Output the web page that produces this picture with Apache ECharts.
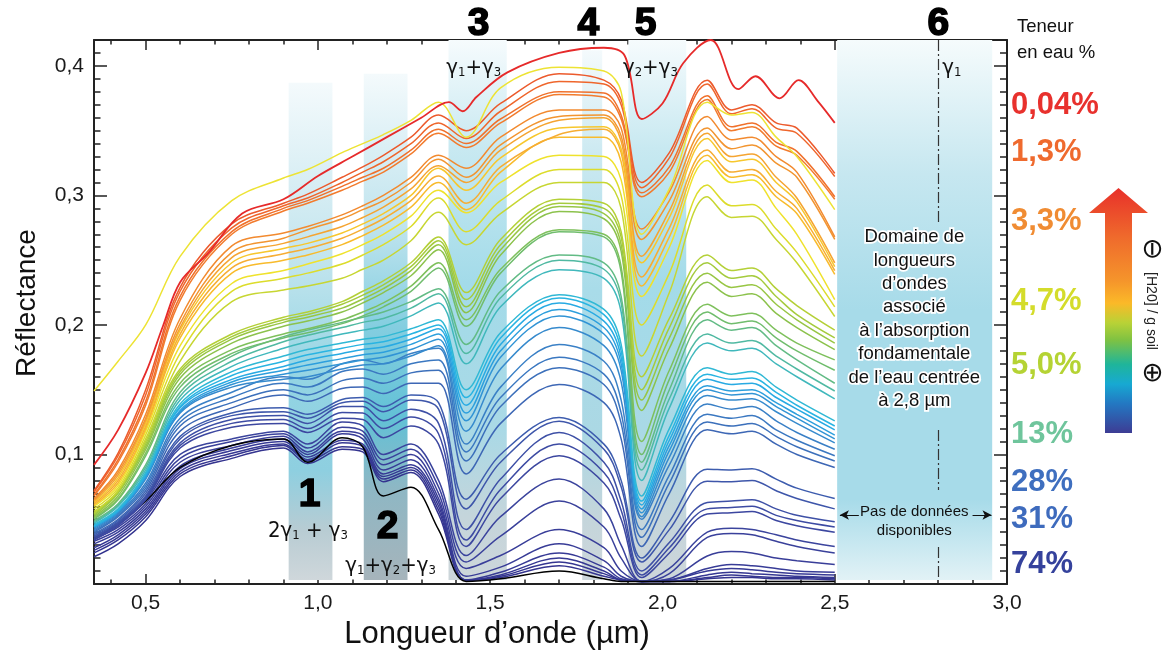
<!DOCTYPE html>
<html><head><meta charset="utf-8">
<script src="https://cdn.jsdelivr.net/npm/echarts@6/dist/echarts.min.js"></script>
<style>html,body{margin:0;padding:0;background:#fff;}#c{width:1171px;height:655px;}</style>
</head><body><div id="c"></div>
<script>
// ---------- data ----------
const wavelengths = [0.35, 0.42, 0.50, 0.60, 0.75, 0.90, 0.97, 1.07, 1.13, 1.19, 1.27, 1.35, 1.43, 1.53, 1.70, 1.83, 1.88, 1.94, 2.02, 2.13, 2.20, 2.26, 2.33, 2.39, 2.50];
const redWavelengths = [0.35, 0.42, 0.50, 0.55, 0.60, 0.68, 0.78, 0.90, 1.00, 1.10, 1.20, 1.30, 1.38, 1.42, 1.46, 1.55, 1.70, 1.83, 1.89, 1.94, 2.00, 2.06, 2.14, 2.22, 2.27, 2.34, 2.395, 2.45, 2.50];
const xTickMajor = [0.5, 1.0, 1.5, 2.0, 2.5, 3.0];
const xTickMinor = [0.4, 0.6, 0.7, 0.8, 0.9, 1.1, 1.2, 1.3, 1.4, 1.6, 1.7, 1.8, 1.9, 2.1, 2.2, 2.3, 2.4, 2.6, 2.7, 2.8, 2.9];
const yTickMajor = [0.1, 0.2, 0.3, 0.4];
const yTickMinor = [0.01,0.02,0.03,0.04,0.05,0.06,0.07,0.08,0.09,0.11,0.12,0.13,0.14,0.15,0.16,0.17,0.18,0.19,0.21,0.22,0.23,0.24,0.25,0.26,0.27,0.28,0.29,0.31,0.32,0.33,0.34,0.35,0.36,0.37,0.38,0.39,0.41];
const waterLabels = ['0,04%', '1,3%', '3,3%', '4,7%', '5,0%', '13%', '28%', '31%', '74%'];

const red004 = [0.092, 0.119, 0.163, 0.199, 0.233, 0.255, 0.286, 0.297, 0.315, 0.330, 0.345, 0.360, 0.372, 0.365, 0.376, 0.395, 0.410, 0.414, 0.408, 0.359, 0.371, 0.402, 0.420, 0.382, 0.392, 0.375, 0.389, 0.373, 0.356];
const yTop = [0.149, 0.172, 0.200, 0.253, 0.296, 0.3135, 0.320, 0.333, 0.340, 0.347, 0.358, 0.372, 0.345, 0.383, 0.399, 0.396, 0.380, 0.270, 0.305, 0.372, 0.362, 0.364, 0.345, 0.330, 0.289];
const o1a = [0.072, 0.101, 0.150, 0.229, 0.278, 0.294, 0.301, 0.314, 0.322, 0.331, 0.345, 0.362, 0.350, 0.371, 0.394, 0.389, 0.374, 0.310, 0.333, 0.389, 0.366, 0.370, 0.356, 0.352, 0.317];
const o1b = [0.071, 0.099, 0.146, 0.226, 0.275, 0.292, 0.298, 0.310, 0.318, 0.326, 0.340, 0.356, 0.344, 0.365, 0.388, 0.386, 0.370, 0.306, 0.329, 0.386, 0.363, 0.367, 0.352, 0.348, 0.3146];
const o1c = [0.069, 0.096, 0.141, 0.222, 0.272, 0.290, 0.296, 0.307, 0.314, 0.321, 0.335, 0.351, 0.340, 0.359, 0.380, 0.379, 0.362, 0.302, 0.322, 0.377, 0.353, 0.356, 0.341, 0.334, 0.299];
const o1d = [0.068, 0.094, 0.138, 0.219, 0.270, 0.288, 0.294, 0.304, 0.311, 0.318, 0.332, 0.348, 0.337, 0.356, 0.378, 0.376, 0.359, 0.299, 0.318, 0.374, 0.350, 0.353, 0.338, 0.331, 0.297];
const o2a = [0.066, 0.088, 0.131, 0.205, 0.261, 0.271, 0.276, 0.285, 0.292, 0.300, 0.314, 0.331, 0.321, 0.345, 0.366, 0.366, 0.352, 0.274, 0.303, 0.361, 0.343, 0.345, 0.330, 0.318, 0.268];
const o2b = [0.065, 0.086, 0.128, 0.201, 0.256, 0.267, 0.2735, 0.282, 0.289, 0.296, 0.310, 0.328, 0.314, 0.339, 0.361, 0.362, 0.346, 0.266, 0.296, 0.352, 0.336, 0.339, 0.325, 0.314, 0.266];
const o2c = [0.064, 0.084, 0.126, 0.198, 0.252, 0.263, 0.268, 0.276, 0.283, 0.291, 0.305, 0.323, 0.310, 0.335, 0.358, 0.360, 0.342, 0.253, 0.288, 0.348, 0.330, 0.332, 0.314, 0.298, 0.248];
const o2d = [0.063, 0.082, 0.124, 0.196, 0.248, 0.259, 0.263, 0.271, 0.278, 0.286, 0.300, 0.321, 0.304, 0.329, 0.352, 0.353, 0.336, 0.248, 0.283, 0.344, 0.326, 0.328, 0.310, 0.295, 0.245];
const o2e = [0.062, 0.080, 0.122, 0.193, 0.244, 0.255, 0.259, 0.267, 0.274, 0.282, 0.296, 0.315, 0.294, 0.322, 0.347, 0.351, 0.333, 0.237, 0.275, 0.335, 0.318, 0.320, 0.303, 0.290, 0.242];
const o2f = [0.061, 0.078, 0.120, 0.190, 0.240, 0.250, 0.254, 0.262, 0.269, 0.277, 0.291, 0.310, 0.289, 0.318, 0.345, 0.345, 0.326, 0.230, 0.268, 0.331, 0.314, 0.316, 0.299, 0.286, 0.239];
const y1 = [0.060, 0.076, 0.118, 0.184, 0.232, 0.242, 0.247, 0.255, 0.262, 0.270, 0.284, 0.304, 0.2866, 0.310, 0.331, 0.330, 0.312, 0.222, 0.260, 0.327, 0.310, 0.312, 0.290, 0.270, 0.2196];
const y2 = [0.058, 0.074, 0.115, 0.178, 0.226, 0.236, 0.240, 0.247, 0.254, 0.262, 0.276, 0.298, 0.272, 0.296, 0.320, 0.320, 0.300, 0.200, 0.240, 0.308, 0.292, 0.293, 0.274, 0.256, 0.214];
const y3 = [0.056, 0.072, 0.112, 0.172, 0.218, 0.227, 0.230, 0.236, 0.243, 0.250, 0.265, 0.287, 0.262, 0.286, 0.310, 0.310, 0.290, 0.176, 0.225, 0.299, 0.283, 0.284, 0.266, 0.248, 0.2065];
const g1 = [0.055, 0.072, 0.110, 0.166, 0.193, 0.206, 0.210, 0.218, 0.226, 0.234, 0.248, 0.268, 0.225, 0.266, 0.297, 0.294, 0.272, 0.160, 0.205, 0.254, 0.242, 0.244, 0.228, 0.215, 0.196];
const g2 = [0.054, 0.071, 0.108, 0.164, 0.191, 0.204, 0.208, 0.216, 0.223, 0.231, 0.245, 0.265, 0.2196, 0.262, 0.294, 0.290, 0.268, 0.150, 0.198, 0.248, 0.236, 0.238, 0.222, 0.208, 0.190];
const g3 = [0.053, 0.070, 0.106, 0.162, 0.189, 0.202, 0.206, 0.213, 0.220, 0.228, 0.242, 0.262, 0.214, 0.258, 0.2915, 0.286, 0.262, 0.142, 0.190, 0.240, 0.229, 0.231, 0.216, 0.204, 0.186];
const g4 = [0.052, 0.068, 0.104, 0.159, 0.186, 0.199, 0.203, 0.210, 0.217, 0.225, 0.238, 0.258, 0.2095, 0.254, 0.2876, 0.282, 0.257, 0.134, 0.182, 0.233, 0.222, 0.224, 0.209, 0.198, 0.181];
const g5 = [0.051, 0.066, 0.101, 0.155, 0.181, 0.193, 0.197, 0.204, 0.210, 0.217, 0.230, 0.248, 0.204, 0.243, 0.2735, 0.270, 0.245, 0.110, 0.165, 0.216, 0.207, 0.209, 0.196, 0.186, 0.173];
const g6 = [0.050, 0.065, 0.099, 0.152, 0.178, 0.190, 0.194, 0.201, 0.207, 0.214, 0.226, 0.244, 0.199, 0.240, 0.272, 0.268, 0.241, 0.100, 0.158, 0.210, 0.201, 0.203, 0.190, 0.180, 0.165];
const t1 = [0.049, 0.062, 0.092, 0.148, 0.176, 0.191, 0.196, 0.202, 0.206, 0.210, 0.218, 0.228, 0.185, 0.226, 0.254, 0.248, 0.222, 0.094, 0.150, 0.204, 0.196, 0.198, 0.184, 0.173, 0.155];
const t2 = [0.048, 0.061, 0.090, 0.145, 0.172, 0.187, 0.192, 0.198, 0.202, 0.205, 0.213, 0.224, 0.178, 0.221, 0.250, 0.243, 0.217, 0.088, 0.143, 0.193, 0.186, 0.188, 0.176, 0.166, 0.149];
const t3 = [0.047, 0.060, 0.088, 0.142, 0.168, 0.182, 0.187, 0.193, 0.196, 0.199, 0.207, 0.217, 0.170, 0.214, 0.2427, 0.236, 0.210, 0.080, 0.136, 0.186, 0.180, 0.182, 0.170, 0.160, 0.143];
const t4 = [0.046, 0.058, 0.086, 0.139, 0.164, 0.176, 0.181, 0.186, 0.189, 0.191, 0.197, 0.204, 0.150, 0.194, 0.2234, 0.212, 0.185, 0.068, 0.120, 0.167, 0.162, 0.164, 0.152, 0.142, 0.126];
const t5 = [0.045, 0.057, 0.085, 0.137, 0.161, 0.172, 0.177, 0.182, 0.185, 0.187, 0.193, 0.200, 0.144, 0.190, 0.2209, 0.208, 0.180, 0.064, 0.115, 0.162, 0.158, 0.159, 0.148, 0.138, 0.122];
const t6 = [0.045, 0.057, 0.084, 0.136, 0.158, 0.168, 0.173, 0.178, 0.181, 0.183, 0.189, 0.197, 0.138, 0.185, 0.217, 0.203, 0.175, 0.061, 0.111, 0.158, 0.154, 0.155, 0.144, 0.135, 0.119];
const t7 = [0.044, 0.056, 0.083, 0.134, 0.156, 0.165, 0.169, 0.174, 0.177, 0.179, 0.185, 0.193, 0.132, 0.180, 0.212, 0.198, 0.170, 0.058, 0.107, 0.153, 0.149, 0.150, 0.140, 0.131, 0.115];
const t8 = [0.044, 0.056, 0.082, 0.133, 0.154, 0.162, 0.165, 0.170, 0.173, 0.175, 0.181, 0.189, 0.126, 0.175, 0.207, 0.193, 0.165, 0.055, 0.103, 0.150, 0.146, 0.147, 0.137, 0.128, 0.112];
const t9 = [0.043, 0.055, 0.081, 0.132, 0.152, 0.158, 0.160, 0.166, 0.169, 0.170, 0.176, 0.184, 0.118, 0.166, 0.198, 0.184, 0.156, 0.052, 0.098, 0.1455, 0.142, 0.143, 0.133, 0.124, 0.109];
const b1 = [0.042, 0.054, 0.078, 0.128, 0.148, 0.160, 0.158, 0.170, 0.173, 0.170, 0.178, 0.182, 0.108, 0.152, 0.185, 0.172, 0.142, 0.050, 0.092, 0.139, 0.135, 0.137, 0.126, 0.117, 0.104];
const b2 = [0.041, 0.053, 0.076, 0.125, 0.144, 0.155, 0.152, 0.164, 0.166, 0.162, 0.170, 0.173, 0.102, 0.144, 0.175, 0.162, 0.132, 0.042, 0.084, 0.131, 0.128, 0.130, 0.119, 0.111, 0.099];
const b3 = [0.040, 0.052, 0.074, 0.122, 0.140, 0.150, 0.146, 0.157, 0.159, 0.155, 0.163, 0.165, 0.095, 0.137, 0.167, 0.154, 0.124, 0.036, 0.078, 0.125, 0.122, 0.124, 0.114, 0.106, 0.095];
const b4 = [0.039, 0.050, 0.072, 0.118, 0.136, 0.146, 0.141, 0.151, 0.152, 0.147, 0.155, 0.155, 0.085, 0.124, 0.154, 0.140, 0.112, 0.029, 0.070, 0.119, 0.116, 0.118, 0.108, 0.100, 0.090];
const b5 = [0.038, 0.049, 0.070, 0.114, 0.132, 0.136, 0.131, 0.1425, 0.144, 0.137, 0.146, 0.140, 0.0655, 0.100, 0.1285, 0.108, 0.080, 0.020, 0.048, 0.0886, 0.088, 0.089, 0.081, 0.074, 0.066];
const b6 = [0.037, 0.048, 0.068, 0.112, 0.130, 0.133, 0.128, 0.140, 0.141, 0.133, 0.142, 0.135, 0.058, 0.094, 0.1257, 0.104, 0.075, 0.017, 0.042, 0.0794, 0.079, 0.080, 0.072, 0.066, 0.058];
const b7 = [0.036, 0.047, 0.067, 0.109, 0.127, 0.130, 0.124, 0.137, 0.137, 0.126, 0.135, 0.124, 0.042, 0.081, 0.117, 0.094, 0.064, 0.010, 0.032, 0.063, 0.064, 0.065, 0.058, 0.053, 0.048];
const b8 = [0.035, 0.046, 0.066, 0.107, 0.124, 0.127, 0.120, 0.1325, 0.132, 0.120, 0.129, 0.116, 0.034, 0.073, 0.108, 0.086, 0.057, 0.007, 0.028, 0.058, 0.059, 0.060, 0.053, 0.049, 0.044];
const b9 = [0.034, 0.045, 0.065, 0.105, 0.121, 0.124, 0.117, 0.128, 0.127, 0.113, 0.122, 0.108, 0.029, 0.066, 0.099, 0.078, 0.050, 0.005, 0.024, 0.054, 0.055, 0.056, 0.049, 0.045, 0.040];
const d1 = [0.036, 0.046, 0.064, 0.100, 0.112, 0.118, 0.108, 0.125, 0.122, 0.100, 0.108, 0.080, 0.022, 0.052, 0.081, 0.058, 0.030, 0.002, 0.012, 0.040, 0.043, 0.042, 0.038, 0.034, 0.029];
const d2 = [0.035, 0.044, 0.062, 0.097, 0.110, 0.116, 0.105, 0.121, 0.118, 0.096, 0.104, 0.075, 0.017, 0.037, 0.064, 0.044, 0.020, 0.002, 0.008, 0.036, 0.039, 0.038, 0.033, 0.029, 0.024];
const d3 = [0.033, 0.042, 0.060, 0.094, 0.107, 0.114, 0.102, 0.118, 0.115, 0.092, 0.100, 0.070, 0.012, 0.022, 0.042, 0.028, 0.010, 0.002, 0.004, 0.0216, 0.025, 0.024, 0.020, 0.018, 0.015];
const d4 = [0.031, 0.040, 0.058, 0.091, 0.105, 0.112, 0.100, 0.116, 0.112, 0.088, 0.096, 0.066, 0.006, 0.013, 0.031, 0.018, 0.006, 0.002, 0.003, 0.012, 0.015, 0.014, 0.012, 0.010, 0.009];
const d5 = [0.028, 0.038, 0.056, 0.089, 0.103, 0.110, 0.098, 0.111, 0.108, 0.085, 0.092, 0.063, 0.003, 0.009, 0.024, 0.013, 0.004, 0.002, 0.003, 0.010, 0.012, 0.011, 0.009, 0.008, 0.007];
const d6 = [0.026, 0.036, 0.054, 0.087, 0.101, 0.108, 0.096, 0.109, 0.106, 0.083, 0.090, 0.060, 0.003, 0.007, 0.020, 0.010, 0.003, 0.002, 0.002, 0.007, 0.009, 0.008, 0.007, 0.006, 0.005];
const d7 = [0.024, 0.034, 0.052, 0.085, 0.099, 0.107, 0.095, 0.106, 0.104, 0.081, 0.088, 0.057, 0.003, 0.006, 0.017, 0.008, 0.003, 0.002, 0.002, 0.005, 0.007, 0.006, 0.005, 0.005, 0.004];
const d8 = [0.021, 0.031, 0.049, 0.083, 0.097, 0.105, 0.093, 0.104, 0.102, 0.079, 0.086, 0.054, 0.003, 0.005, 0.014, 0.006, 0.003, 0.002, 0.002, 0.004, 0.005, 0.005, 0.004, 0.004, 0.003];
const blk = [0.035, 0.047, 0.064, 0.090, 0.107, 0.112, 0.094, 0.113, 0.106, 0.068, 0.0747, 0.042, 0.002, 0.004, 0.010, 0.004, 0.002, 0.002, 0.002, 0.002, 0.002, 0.002, 0.002, 0.002, 0.002];

// absorption bands [start, end, top]
const bandStart = [0.915, 1.133, 1.379, 1.767, 1.901, 2.507];
const bandEnd   = [1.042, 1.260, 1.548, 1.825, 2.069, 2.957];
const bandTop   = [0.387, 0.394, 0.420, 0.412, 0.420, 0.420];

// ---------- styles (draw order: wettest first) ----------
const curves = [
  [d8,'#34348f'],[d7,'#353691'],[d6,'#363893'],[d5,'#373a95'],[d4,'#383c97'],[d3,'#393e99'],[d2,'#3a419b'],[d1,'#3b449d'],
  [blk,'#000000'],
  [b9,'#3c47a0'],[b8,'#3d4ba3'],[b7,'#3e50a6'],[b6,'#3e56aa'],[b5,'#3d5cae'],[b4,'#3d67b5'],[b3,'#3c70bb'],[b2,'#3b78c1'],[b1,'#3a80c6'],
  [t9,'#368acd'],[t8,'#3194d5'],[t7,'#2c9fdd'],[t6,'#28aae3'],[t5,'#29b4e2'],[t4,'#30b8d5'],[t3,'#40b8bc'],[t2,'#50b9a2'],[t1,'#62bb85'],
  [g6,'#70bd6d'],[g5,'#7ec05c'],[g4,'#8cc24c'],[g3,'#98c644'],[g2,'#a5cb3d'],[g1,'#b4d037'],
  [y3,'#c7d632'],[y2,'#dcdc2b'],[y1,'#efe22c'],
  [o2f,'#f8bb2c'],[o2e,'#f6ad33'],[o2d,'#f7c72d'],[o2c,'#f5a431'],[o2b,'#f29530'],[o2a,'#f28a2f'],
  [o1d,'#f27b2d'],[o1c,'#f0712c'],[o1b,'#ef662c'],[o1a,'#ec5a2c'],
  [yTop,'#ede334']
];
const labelColors = ['#e8312d','#ef6a2e','#f08c33','#d4dc2b','#b5d334','#6fc59c','#3f6fbf','#3e6bbd','#35429c'];
const labelY = [105, 152, 221, 301, 365, 434, 482, 519, 564];

function grad(stops){ return {type:'linear',x:0,y:0,x2:0,y2:1,colorStops:stops.map(s=>({offset:s[0],color:s[1]}))}; }
const bandGrads = [
  grad([[0,'#f4fafc'],[0.35,'#c3e5ee'],[0.6,'#93d4e3'],[0.78,'#8ecfe0'],[0.9,'#b8ccd3'],[1,'#cfd7db']]),
  grad([[0,'#f4fafc'],[0.3,'#c0e4ee'],[0.5,'#84cee0'],[0.68,'#62c1d6'],[0.82,'#8eb7c4'],[1,'#a6b4bb']]),
  grad([[0,'#f6fbfd'],[0.2,'#c8e9f1'],[0.45,'#a3dbe9'],[0.72,'#a9d9e6'],[0.88,'#c4d5db'],[1,'#cdd6da']]),
  grad([[0,'#f4fafc'],[0.2,'#cbe9f1'],[0.45,'#a9dce9'],[0.72,'#abd8e4'],[0.88,'#c4d5db'],[1,'#cdd6da']]),
  grad([[0,'#f6fbfd'],[0.2,'#c8e9f1'],[0.45,'#a3dbe9'],[0.72,'#a9d9e6'],[0.88,'#c4d5db'],[1,'#cdd6da']]),
  grad([[0,'#f5fbfc'],[0.25,'#c6e7f0'],[0.5,'#a7dbe9'],[0.85,'#a7dbe9'],[1,'#e2f2f6']])
];

const FONT = "'Liberation Sans', Arial, sans-serif";
const chart = echarts.init(document.getElementById('c'), null, {renderer:'canvas'});
const fmt = v => v.toFixed(1).replace('.', ',');
const axisLineStyle = {color:'#222', width:2};

function xAx(pos, ticks, len, labels, line){
  return {type:'value', position:pos, min:0.35, max:3.0, splitLine:{show:false},
    axisLine:{show:line, onZero:false, lineStyle:axisLineStyle},
    axisTick:{show:true, inside:true, length:len, customValues:ticks, lineStyle:{color:'#222', width:1.5}},
    axisLabel:labels ? {show:true, customValues:ticks, formatter:fmt, fontSize:21, color:'#1a1a1a', margin:9, fontFamily:FONT} : {show:false}};
}
function yAx(pos, ticks, len, labels, line){
  return {type:'value', position:pos, min:0, max:0.42, splitLine:{show:false},
    axisLine:{show:line, onZero:false, lineStyle:axisLineStyle},
    axisTick:{show:true, inside:true, length:len, customValues:ticks, lineStyle:{color:'#222', width:1.5}},
    axisLabel:labels ? {show:true, customValues:ticks, formatter:fmt, fontSize:21, color:'#1a1a1a', margin:10, fontFamily:FONT} : {show:false}};
}

const series = curves.map((c) => ({
  type:'line', xAxisIndex:0, yAxisIndex:0, showSymbol:false, symbol:'none', smooth:0.35,
  silent:true, z:3, clip:true,
  lineStyle:{color:c[1], width:1.5},
  data: wavelengths.map((w, k) => [w, c[0][k]])
}));
series.push({
  type:'line', xAxisIndex:0, yAxisIndex:0, showSymbol:false, symbol:'none', smooth:0.35,
  silent:true, z:3, clip:true,
  lineStyle:{color:'#e62a2a', width:1.8},
  data: redWavelengths.map((w, k) => [w, red004[k]])
});

series.unshift({
  type:'line', xAxisIndex:0, yAxisIndex:0, data:[], silent:true, z:1,
  markArea:{silent:true, data: bandStart.map((s, i) => [
    {xAxis:s, yAxis:bandTop[i], itemStyle:{color:bandGrads[i]}},
    {xAxis:bandEnd[i], yAxis:0.003}
  ])},
  markLine:{silent:true, symbol:'none', label:{show:false},
    lineStyle:{color:'#333', width:1.2, type:[11,3,2,3]},
    data:[
      [{coord:[2.8,0.42]},{coord:[2.8,0.2795]}],
      [{coord:[2.8,0.1189]},{coord:[2.8,0.0726]}],
      [{coord:[2.8,0.0286]},{coord:[2.8,0.0046]}],
      [{coord:[2.57,0.0533], symbol:'none'},{coord:[2.515,0.0533], symbol:'arrow', symbolSize:[7,9], lineStyle:{type:'solid', color:'#111', width:1}}],
      [{coord:[2.90,0.0533], symbol:'none'},{coord:[2.955,0.0533], symbol:'arrow', symbolSize:[7,9], lineStyle:{type:'solid', color:'#111', width:1}}]
    ]}
});

chart.setOption({
  animation:false,
  backgroundColor:'#ffffff',
  grid:{left:94, right:164, top:40, bottom:71, containLabel:false},
  xAxis:[xAx('bottom', xTickMajor, 10, true, true), xAx('bottom', xTickMinor, 4.5, false, false),
         xAx('top', xTickMajor, 10, false, true), xAx('top', xTickMinor, 4.5, false, false)],
  yAxis:[yAx('left', yTickMajor, 13, true, true), yAx('left', yTickMinor, 6.5, false, false),
         yAx('right', yTickMajor, 13, false, true), yAx('right', yTickMinor, 7, false, false)],
  series: series
});

// ---------- annotations ----------
const P = (x, y) => chart.convertToPixel({xAxisIndex:0, yAxisIndex:0}, [x, y]);
const g = [];
function txt(x, y, text, style, extra){ g.push(Object.assign({type:'text', x:x, y:y, z:50, silent:true,
  style:Object.assign({text:text, align:'center', verticalAlign:'middle', fill:'#111', fontFamily:FONT}, style)}, extra||{})); }
const big = {fontSize:39, fontWeight:'bold', fill:'#000', stroke:'#000', lineWidth:1.6};
[[1.466,'3'],[1.785,'4'],[1.951,'5'],[2.801,'6']].forEach(a => txt(P(a[0],0)[0], 24, a[1], big));
let p = P(0.976, 0.0687); txt(p[0], p[1], '1', big);
p = P(1.202, 0.0440); txt(p[0], p[1], '2', big);

const GF = "'Liberation Sans Narrow', 'DejaVu Sans Condensed', " + FONT;
const gRich = {g:{fontSize:22, fill:'#111', fontFamily:GF, lineHeight:22, verticalAlign:'top'},
               s:{fontSize:13, fill:'#111', fontFamily:GF, lineHeight:13, verticalAlign:'bottom', padding:[22,0,0,0]}};
function gam(x, y, t){ const q = P(x, y); txt(q[0], q[1], t, {rich:gRich, fontSize:22, fontFamily:GF}); }
gam(0.971, 0.0410, '{g|2γ}{s|1}{g| + γ}{s|3}');
gam(1.211, 0.0135, '{g|γ}{s|1}{g|+γ}{s|2}{g|+γ}{s|3}');
gam(1.452, 0.3985, '{g|γ}{s|1}{g|+γ}{s|3}');
gam(1.965, 0.3985, '{g|γ}{s|2}{g|+γ}{s|3}');
gam(2.840, 0.3985, '{g|γ}{s|1}');

p = P(2.731, 0.2046);
txt(p[0], p[1], 'Domaine de\nlongueurs\nd\u2019ondes\nassocié\nà l\u2019absorption\nfondamentale\nde l\u2019eau centrée\nà 2,8 µm',
  {fontSize:18.5, lineHeight:23.4, fill:'#111', stroke:'#ffffff', lineWidth:3.5, strokeFirst:true});
p = P(2.731, 0.0480);
txt(p[0], p[1], 'Pas de données\ndisponibles', {fontSize:15, lineHeight:19, fill:'#111'});

// axis titles
txt(27, 303, 'Réflectance', {fontSize:28}, {rotation:Math.PI/2});
txt(P(1.52,0)[0], 634, 'Longueur d\u2019onde (µm)', {fontSize:31});

// right-hand legend text
txt(1017, 27, 'Teneur', {fontSize:18.5, align:'left'});
txt(1017, 53, 'en eau %', {fontSize:18.5, align:'left'});
waterLabels.forEach((t, i) => txt(1011, labelY[i], t, {fontSize:31, fontWeight:'bold', fill:labelColors[i], align:'left'}));

// colour arrow
g.push({type:'polygon', z:40, silent:true,
  shape:{points:[[1118.5,188],[1148,213],[1132,213],[1132,433],[1105,433],[1105,213],[1089,213]]},
  style:{fill:grad([[0,'#e8302a'],[0.2,'#ef6a2c'],[0.38,'#f5952b'],[0.47,'#fbb928'],[0.55,'#b9d236'],[0.62,'#7fc242'],[0.72,'#1fb59a'],[0.8,'#17a9d2'],[0.88,'#2378c2'],[1,'#3d3c94']])}});
txt(1151, 311, '{b|⊖}   [H20] / g soil   {b|⊕}', {fontSize:14, fill:'#222',
  rich:{b:{fontSize:27, fill:'#111', fontFamily:"'DejaVu Sans', sans-serif"}}}, {rotation:-Math.PI/2});

chart.setOption({graphic:g});
</script></body></html>
